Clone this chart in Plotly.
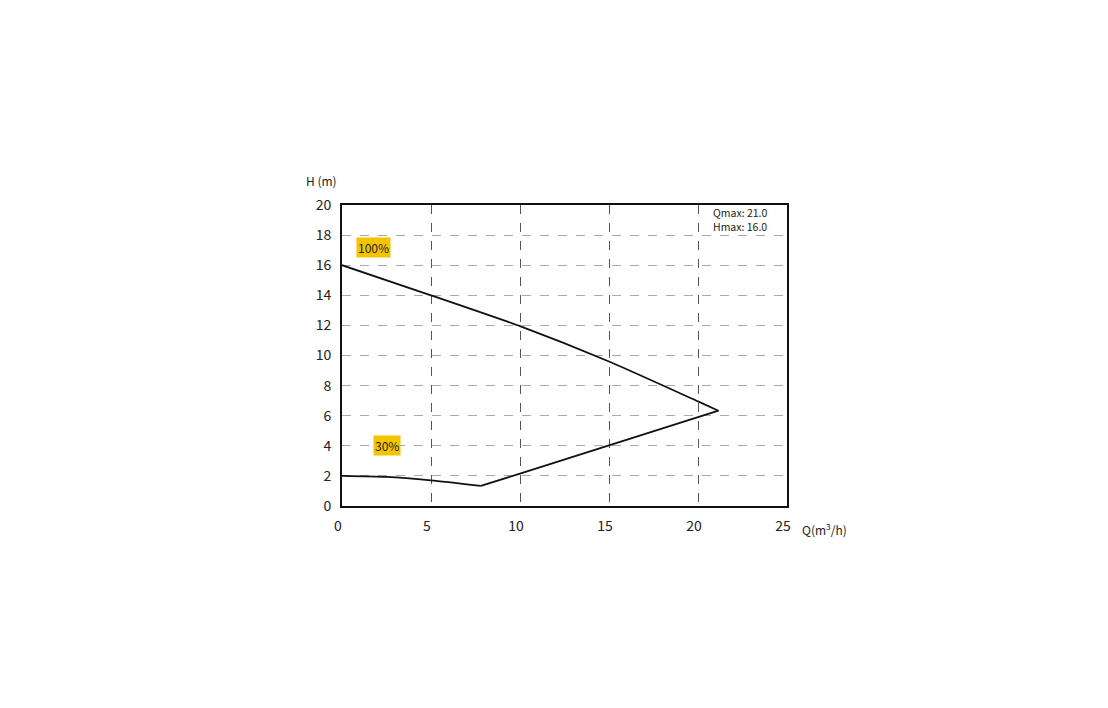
import plotly.graph_objects as go

# Data
q_curve = [0, 5, 10, 15, 20, 21.15, 15, 10, 7.8, 5, 2.5, 0]
h_curve = [16.0, 14.0, 11.95, 9.6, 6.95, 6.33, 4.0, 2.15, 1.33, 1.7, 1.93, 2.0]
x_ticks = [0, 5, 10, 15, 20, 25]
y_ticks = [0, 2, 4, 6, 8, 10, 12, 14, 16, 18, 20]
labels = ["100%", "30%"]
label_q = [1.75, 2.5]
label_h = [17.2, 4.0]
info_text = "Qmax: 21.0<br>Hmax: 16.0"

FONT = "Noto Sans CJK KR, Noto Sans, sans-serif"

fig = go.Figure()
# segments: upper branch (smooth), lower straight run, lower-left (smooth)
segments = [(0, 6, "spline"), (5, 9, "linear"), (8, 12, "spline")]
for a, b, shp in segments:
    fig.add_trace(go.Scatter(x=q_curve[a:b], y=h_curve[a:b], mode="lines",
                             line=dict(color="#111111", width=1.8, shape=shp,
                                       smoothing=0.6),
                             hoverinfo="skip", showlegend=False))

for t, qx, hy in zip(labels, label_q, label_h):
    fig.add_annotation(x=qx, y=hy, text=t, showarrow=False,
                       bgcolor="#f5c400", borderpad=1,
                       font=dict(family=FONT, size=12, color="#222222"))

fig.add_annotation(xref="paper", yref="paper", x=0.96, y=1.005,
                   xanchor="right", yanchor="top", align="left",
                   text=info_text, showarrow=False,
                   font=dict(family=FONT, size=10.5, color="#222222"))

fig.add_annotation(xref="paper", yref="paper", x=-0.085, y=1.045,
                   xanchor="left", yanchor="bottom",
                   text="H (m)", showarrow=False,
                   font=dict(family=FONT, size=12, color="#222222"))
fig.add_annotation(xref="paper", yref="paper", x=1.03, y=-0.075,
                   xanchor="left", yanchor="middle",
                   text="Q(m<sup>3</sup>/h)", showarrow=False,
                   font=dict(family=FONT, size=12, color="#222222"))

fig.update_xaxes(range=[0, 25], tickvals=x_ticks, ticks="",
                 showgrid=True, gridcolor="#555555", griddash="dash", gridwidth=1,
                 showline=True, linecolor="#111111", linewidth=2, mirror=True,
                 zeroline=False, ticklabelshift=-4, ticklabelstandoff=6,
                 tickfont=dict(family=FONT, size=14, color="#222222"))
fig.update_yaxes(range=[0, 20], tickvals=y_ticks, ticks="",
                 showgrid=True, gridcolor="#aaaaaa", griddash="dash", gridwidth=1,
                 showline=True, linecolor="#111111", linewidth=2, mirror=True,
                 zeroline=False, ticklabelstandoff=6,
                 tickfont=dict(family=FONT, size=14, color="#222222"))

fig.update_layout(width=1108, height=708,
                  margin=dict(l=334, r=329, t=197, b=210),
                  paper_bgcolor="white", plot_bgcolor="white",
                  showlegend=False)

fig.write_html("out.html")
